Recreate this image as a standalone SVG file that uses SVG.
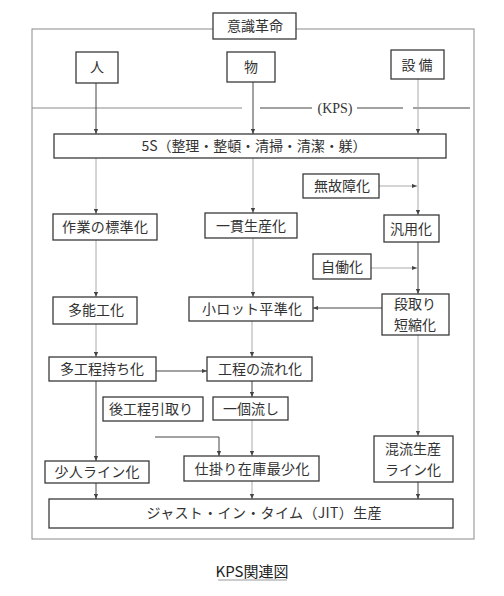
<svg xmlns="http://www.w3.org/2000/svg" width="504" height="596" viewBox="0 0 504 596">
<style>
.box{fill:#fff;stroke:#3a3a3a;stroke-width:1.3}
.t{font-family:"Noto Sans CJK JP","Noto Sans CJK SC",sans-serif;font-size:14px;fill:#333;text-anchor:middle}
.c{fill:none;stroke:#444;stroke-width:1}
.f{fill:none;stroke:#aaa;stroke-width:1}
.frame{fill:none;stroke:#8a8a8a;stroke-width:1}
</style>
<defs>
<marker id="a" viewBox="0 0 6 6" refX="6" refY="3" markerWidth="5" markerHeight="5" markerUnits="userSpaceOnUse" orient="auto">
<path d="M0,0.5L6,3L0,5.5Z" fill="#444"/>
</marker>
</defs>
<rect class="frame" x="32" y="29" width="442" height="510"/>
<g id="connectors">
<line class="frame" x1="32" y1="108" x2="242" y2="108"/>
<line class="c" x1="260" y1="108" x2="312" y2="108"/>
<line class="c" x1="357" y1="108" x2="403" y2="108"/>
<line class="c" x1="413" y1="108" x2="470" y2="108"/>
<text x="335" y="113" style="font-family:'Liberation Serif',serif;font-size:14px;fill:#333;text-anchor:middle">(KPS)</text>
<line class="c" x1="96" y1="83" x2="96" y2="134" marker-end="url(#a)"/>
<line class="c" x1="253" y1="82" x2="253" y2="134" marker-end="url(#a)"/>
<line class="f" x1="418" y1="79" x2="418" y2="134" marker-end="url(#a)"/>
<line class="f" x1="96" y1="158" x2="96" y2="214" marker-end="url(#a)"/>
<line class="f" x1="253" y1="158" x2="253" y2="213" marker-end="url(#a)"/>
<line class="f" x1="418" y1="158" x2="418" y2="215" marker-end="url(#a)"/>
<line class="f" x1="379" y1="186" x2="417" y2="186" marker-end="url(#a)"/>
<line class="c" x1="418" y1="242" x2="418" y2="294" marker-end="url(#a)"/>
<line class="f" x1="371" y1="268" x2="417" y2="268" marker-end="url(#a)"/>
<line class="f" x1="96" y1="240" x2="96" y2="297" marker-end="url(#a)"/>
<line class="f" x1="253" y1="238" x2="253" y2="297" marker-end="url(#a)"/>
<line class="c" x1="382" y1="308" x2="313" y2="308" marker-end="url(#a)"/>
<line class="f" x1="96" y1="324" x2="96" y2="357" marker-end="url(#a)"/>
<line class="f" x1="252" y1="321" x2="252" y2="357" marker-end="url(#a)"/>
<line class="c" x1="156" y1="371" x2="207" y2="371" marker-end="url(#a)"/>
<line class="c" x1="252" y1="381" x2="252" y2="397" marker-end="url(#a)"/>
<line class="f" x1="252" y1="420" x2="252" y2="456" marker-end="url(#a)"/>
<polyline class="c" points="155,437 219,437 219,456" marker-end="url(#a)"/>
<line class="c" x1="96" y1="381" x2="96" y2="461" marker-end="url(#a)"/>
<line class="f" x1="418" y1="335" x2="418" y2="436" marker-end="url(#a)"/>
<line class="c" x1="96" y1="483" x2="96" y2="499" marker-end="url(#a)"/>
<line class="f" x1="252" y1="481" x2="252" y2="499" marker-end="url(#a)"/>
<line class="c" x1="418" y1="482" x2="418" y2="499" marker-end="url(#a)"/>
</g>
<g id="ishiki"><rect class="box" x="213" y="13" width="83" height="26"/><text class="t" x="255" y="31">意識革命</text></g>
<g id="hito"><rect class="box" x="76" y="52" width="42" height="31"/><text class="t" x="97" y="72">人</text></g>
<g id="mono"><rect class="box" x="227" y="52" width="48" height="30"/><text class="t" x="251" y="72">物</text></g>
<g id="setsubi"><rect class="box" x="391" y="50" width="53" height="29"/><text class="t" x="417" y="70">設 備</text></g>
<g id="s5"><rect class="box" x="54" y="134" width="392" height="24"/><text class="t" x="254" y="151" textLength="225" lengthAdjust="spacing">5S（整理・整頓・清掃・清潔・躾）</text></g>
<g id="mukoshou"><rect class="box" x="303" y="174" width="76" height="24"/><text class="t" x="342" y="191">無故障化</text></g>
<g id="sagyou"><rect class="box" x="53" y="214" width="104" height="26"/><text class="t" x="105" y="232" textLength="86" lengthAdjust="spacing">作業の標準化</text></g>
<g id="ikkan"><rect class="box" x="205" y="213" width="92" height="25"/><text class="t" x="251" y="231">一貫生産化</text></g>
<g id="hanyou"><rect class="box" x="384" y="215" width="55" height="27"/><text class="t" x="411" y="234">汎用化</text></g>
<g id="jidouka"><rect class="box" x="313" y="254" width="58" height="25"/><text class="t" x="342" y="272">自働化</text></g>
<g id="tanou"><rect class="box" x="53" y="297" width="84" height="27"/><text class="t" x="96" y="315">多能工化</text></g>
<g id="shoulot"><rect class="box" x="189" y="297" width="124" height="24"/><text class="t" x="252" y="314" textLength="100" lengthAdjust="spacing">小ロット平準化</text></g>
<g id="dandori"><rect class="box" x="382" y="294" width="67" height="41"/><text class="t" x="415" y="309">段取り</text><text class="t" x="415" y="330">短縮化</text></g>
<g id="takoutei"><rect class="box" x="49" y="357" width="107" height="24"/><text class="t" x="102" y="374">多工程持ち化</text></g>
<g id="kouteinagare"><rect class="box" x="207" y="357" width="105" height="24"/><text class="t" x="260" y="374">工程の流れ化</text></g>
<g id="atokoutei"><rect class="box" x="103" y="397" width="100" height="24"/><text class="t" x="151" y="414">後工程引取り</text></g>
<g id="ikko"><rect class="box" x="213" y="397" width="75" height="23"/><text class="t" x="251" y="414">一個流し</text></g>
<g id="shikakari"><rect class="box" x="184" y="456" width="135" height="25"/><text class="t" x="252" y="474" textLength="115" lengthAdjust="spacing">仕掛り在庫最少化</text></g>
<g id="shounin"><rect class="box" x="45" y="461" width="104" height="22"/><text class="t" x="97" y="477" textLength="85" lengthAdjust="spacing">少人ライン化</text></g>
<g id="konryu"><rect class="box" x="374" y="436" width="79" height="46"/><text class="t" x="413" y="454">混流生産</text><text class="t" x="413" y="475">ライン化</text></g>
<g id="jit"><rect class="box" x="49" y="499" width="404" height="29"/><text class="t" x="264" y="518" textLength="235" lengthAdjust="spacing">ジャスト・イン・タイム（JIT）生産</text></g>
<g id="title"><text x="252" y="577" style="font-family:'Noto Sans CJK JP',sans-serif;font-size:15px;fill:#222;text-anchor:middle">KPS関連図</text><line x1="218" y1="580" x2="287" y2="580" stroke="#999" stroke-width="1"/></g>
</svg>
